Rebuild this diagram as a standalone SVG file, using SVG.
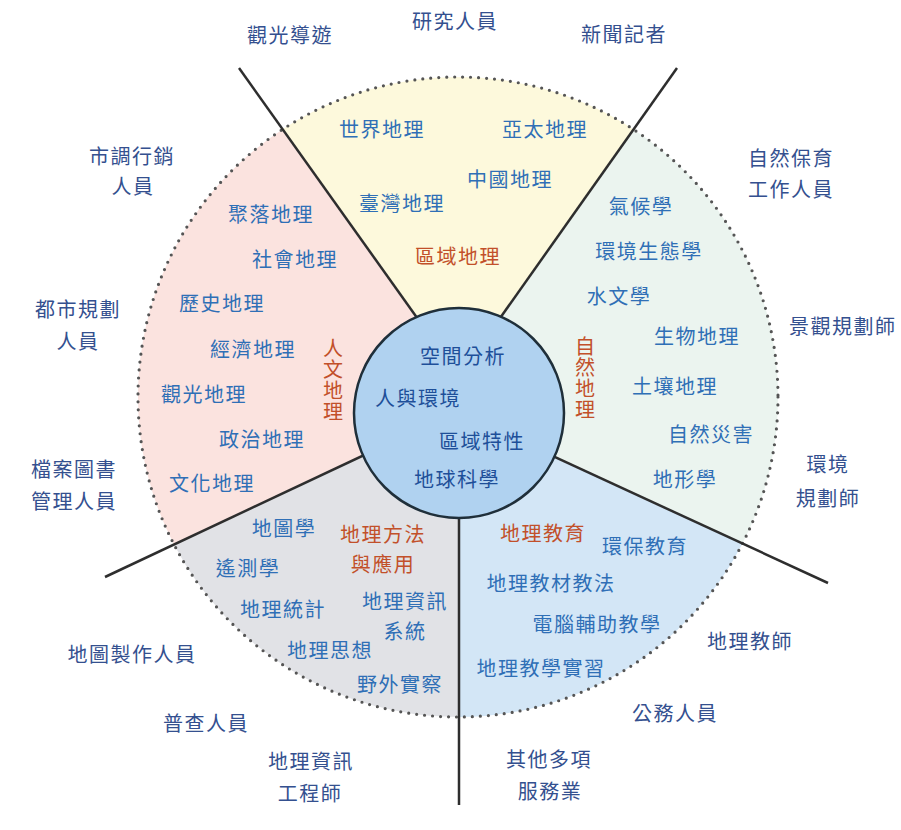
<svg xmlns="http://www.w3.org/2000/svg" width="901" height="830" viewBox="0 0 901 830">
<style>
text{font-family:"Noto Sans CJK TC","Noto Sans CJK SC",sans-serif;font-size:20px;text-anchor:middle;dominant-baseline:central;letter-spacing:1.5px}
.out{fill:#34508f}
.in{fill:#2f6fb6}
.cat{fill:#c2502a}
.vert{writing-mode:vertical-rl;letter-spacing:1px}
.core{fill:#1e4f99}
.div{stroke:#2e2e2e;stroke-width:2.5;fill:none}
</style>
<rect width="901" height="830" fill="#ffffff"/>
<g id="sectors">
<path id="sector-region" d="M430,336 L282.7,129.3 A320,320 0 0 1 633.5,129.4 L490.2,332 L459,413 Z" fill="#fdf9dc"/>
<path id="sector-physical" d="M490.2,332 L633.5,129.4 A320,320 0 0 1 742.5,543.5 L475.7,420.5 L459,413 Z" fill="#ebf4ef"/>
<path id="sector-education" d="M475.7,420.5 L742.5,543.5 A320,320 0 0 1 459,717 L459,480 L459,413 Z" fill="#d3e6f6"/>
<path id="sector-methods" d="M459,480 L459,717 A320,320 0 0 1 174,544.5 L436.5,421 L459,413 Z" fill="#e1e2e6"/>
<path id="sector-human" d="M436.5,421 L174,544.5 A320,320 0 0 1 282.7,129.3 L430,336 L459,413 Z" fill="#fbe3df"/>
<circle cx="458" cy="397" r="320" fill="none" stroke="#555" stroke-width="3.2" stroke-linecap="round" stroke-dasharray="0 8"/>
</g>
<g id="connectors">
<line class="div" x1="239" y1="68" x2="430" y2="336"/>
<line class="div" x1="677" y1="68" x2="490.2" y2="332"/>
<line class="div" x1="475.7" y1="420.5" x2="828" y2="583"/>
<line class="div" x1="459" y1="480" x2="459" y2="805"/>
<line class="div" x1="436.5" y1="421" x2="105" y2="577"/>
</g>
<g id="core">
<circle cx="459" cy="413" r="105" fill="#b0d2f0" stroke="#1f2f3a" stroke-width="2.5"/>
<text class="core" x="463" y="355">空間分析</text>
<text class="core" x="418" y="397">人與環境</text>
<text class="core" x="482" y="440">區域特性</text>
<text class="core" x="457" y="478">地球科學</text>
</g>
<g id="node-region">
<text class="in" x="382" y="128">世界地理</text>
<text class="in" x="545" y="128">亞太地理</text>
<text class="in" x="510" y="178">中國地理</text>
<text class="in" x="402" y="202">臺灣地理</text>
<text class="cat" x="458" y="255">區域地理</text>
</g>
<g id="node-human">
<text class="in" x="271" y="213">聚落地理</text>
<text class="in" x="295" y="258">社會地理</text>
<text class="in" x="222" y="302">歷史地理</text>
<text class="in" x="253" y="348">經濟地理</text>
<text class="in" x="204" y="393">觀光地理</text>
<text class="in" x="262" y="438">政治地理</text>
<text class="in" x="212" y="482">文化地理</text>
<text class="cat vert" x="333" y="380">人文地理</text>
</g>
<g id="node-physical">
<text class="in" x="641" y="205">氣候學</text>
<text class="in" x="649" y="250">環境生態學</text>
<text class="in" x="619" y="295">水文學</text>
<text class="in" x="697" y="335">生物地理</text>
<text class="in" x="675" y="385">土壤地理</text>
<text class="in" x="711" y="433">自然災害</text>
<text class="in" x="685" y="478">地形學</text>
<text class="cat vert" x="585" y="378">自然地理</text>
</g>
<g id="node-education">
<text class="cat" x="543" y="532">地理教育</text>
<text class="in" x="645" y="545">環保教育</text>
<text class="in" x="551" y="582">地理教材教法</text>
<text class="in" x="597" y="623">電腦輔助教學</text>
<text class="in" x="541" y="667">地理教學實習</text>
</g>
<g id="node-methods">
<text class="in" x="284" y="527">地圖學</text>
<text class="cat"><tspan x="383" y="533">地理方法</tspan><tspan x="383" y="563">與應用</tspan></text>
<text class="in" x="248" y="567">遙測學</text>
<text class="in" x="283" y="608">地理統計</text>
<text class="in"><tspan x="405" y="600">地理資訊</tspan><tspan x="405" y="630">系統</tspan></text>
<text class="in" x="330" y="649">地理思想</text>
<text class="in" x="400" y="683">野外實察</text>
</g>
<g id="careers">
<text class="out" x="290" y="34">觀光導遊</text>
<text class="out" x="455" y="20">研究人員</text>
<text class="out" x="624" y="33">新聞記者</text>
<text class="out"><tspan x="132" y="155">市調行銷</tspan><tspan x="133" y="185">人員</tspan></text>
<text class="out"><tspan x="791" y="157">自然保育</tspan><tspan x="791" y="188">工作人員</tspan></text>
<text class="out"><tspan x="78" y="308">都市規劃</tspan><tspan x="78" y="340">人員</tspan></text>
<text class="out" x="789" y="325" style="text-anchor:start">景觀規劃師</text>
<text class="out"><tspan x="828" y="463">環境</tspan><tspan x="828" y="497">規劃師</tspan></text>
<text class="out"><tspan x="74" y="468">檔案圖書</tspan><tspan x="74" y="500">管理人員</tspan></text>
<text class="out" x="132" y="653">地圖製作人員</text>
<text class="out" x="206" y="722">普查人員</text>
<text class="out"><tspan x="311" y="760">地理資訊</tspan><tspan x="310" y="792">工程師</tspan></text>
<text class="out"><tspan x="549" y="758">其他多項</tspan><tspan x="550" y="790">服務業</tspan></text>
<text class="out" x="675" y="712">公務人員</text>
<text class="out" x="750" y="640">地理教師</text>
</g>
</svg>
